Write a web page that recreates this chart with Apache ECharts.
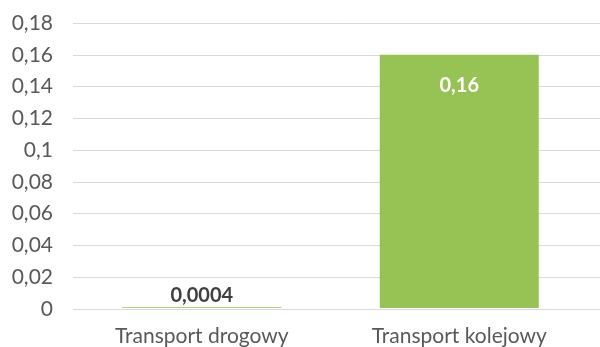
<!DOCTYPE html>
<html>
<head>
<meta charset="utf-8">
<script src="https://cdn.jsdelivr.net/npm/echarts@6/dist/echarts.min.js"></script>
<style>
  html, body { margin: 0; padding: 0; background: #fff; }
  #chart { width: 600px; height: 347px; }
</style>
</head>
<body>
<div id="chart"></div>
<script>
// Categories and values
const categories = ['Transport drogowy', 'Transport kolejowy'];
const values = [0.0004, 0.16];
const yMin = 0;
const yMax = 0.18;
const yStep = 0.02;

const fmt = v => String(+v.toFixed(4)).replace('.', ',');
const font = 'Lato, "Open Sans", sans-serif';

const chart = echarts.init(document.getElementById('chart'));
chart.setOption({
  animation: false,
  grid: [
    // background grid carrying the value axis and its gridlines
    { left: 73, right: 0, top: 23, bottom: 38 },
    // grid for the bars
    { left: 73, right: 12, top: 23, bottom: 38 }
  ],
  xAxis: [
    { type: 'category', gridIndex: 0, data: categories, show: false },
    {
      type: 'category', gridIndex: 1, data: categories,
      axisLine: { show: false },
      axisTick: { show: false },
      axisLabel: { color: '#595959', fontSize: 21, fontFamily: font, margin: 18 }
    }
  ],
  yAxis: [
    {
      type: 'value', gridIndex: 0, min: yMin, max: yMax, interval: yStep,
      axisLine: { show: false }, axisTick: { show: false },
      axisLabel: { color: '#595959', fontSize: 21, fontFamily: font, margin: 20, formatter: fmt },
      splitLine: { lineStyle: { color: '#d9d9d9', width: 1 } }
    },
    {
      type: 'value', gridIndex: 1, min: yMin, max: yMax, interval: yStep,
      show: false, splitLine: { show: false }
    }
  ],
  series: [{
    type: 'bar',
    xAxisIndex: 1, yAxisIndex: 1,
    barWidth: 159,
    itemStyle: { color: '#97c355' },
    label: {
      show: true,
      fontFamily: font,
      fontSize: 20,
      fontWeight: 'bold',
      formatter: p => fmt(p.value)
    },
    // small value labelled above its bar, large value inside the top
    data: [
      { value: values[0], label: { position: 'top', distance: 2, color: '#404040' } },
      { value: values[1], label: { position: 'insideTop', distance: 21, color: '#ffffff' } }
    ]
  }]
});
</script>
</body>
</html>
